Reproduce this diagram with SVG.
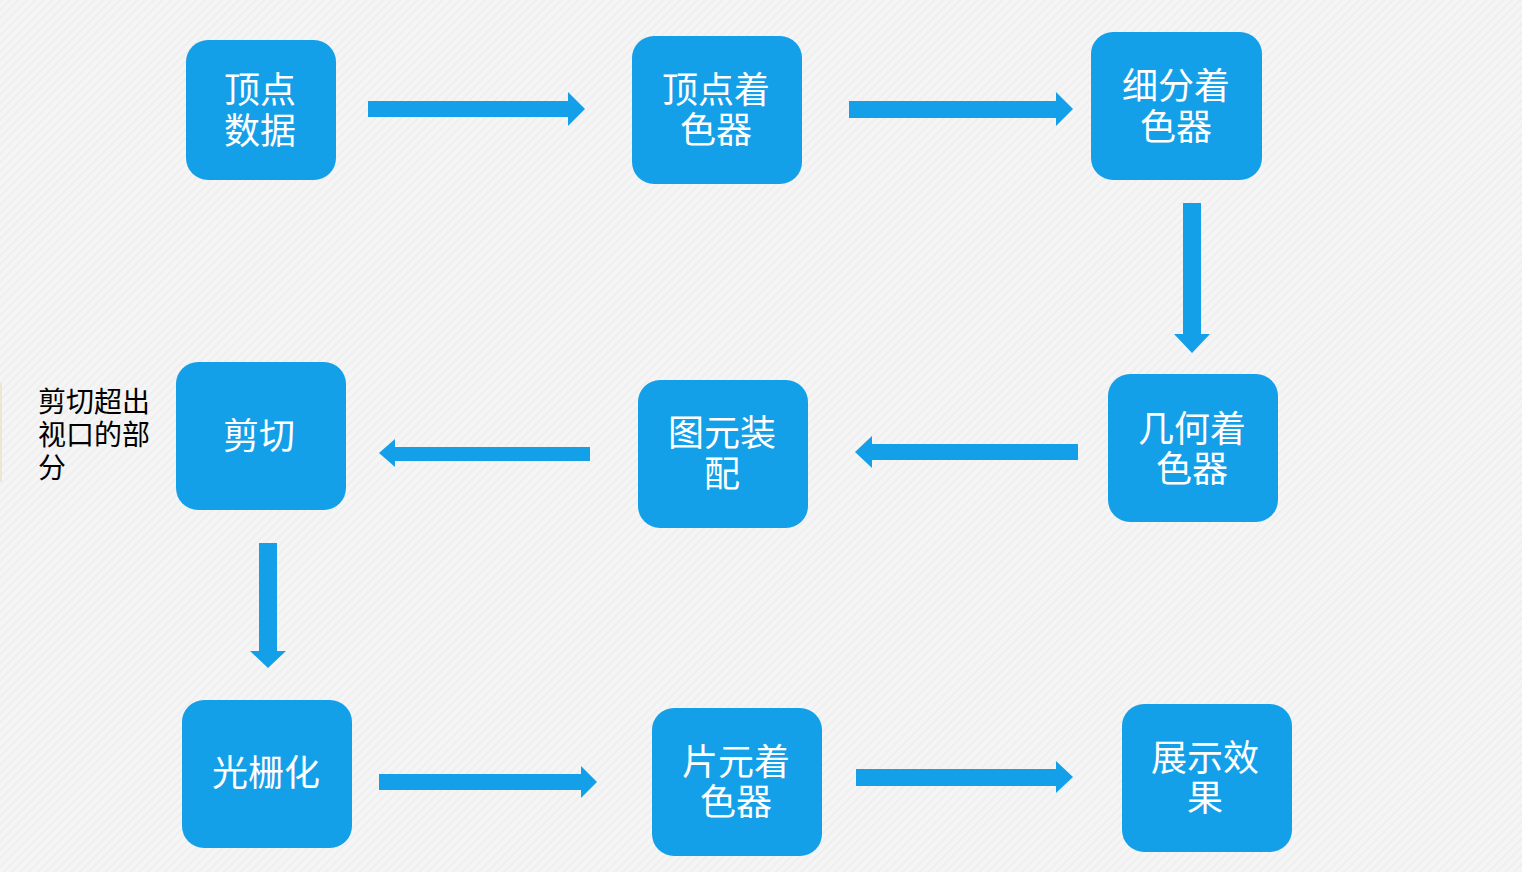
<svg xmlns="http://www.w3.org/2000/svg" width="1522" height="872" viewBox="0 0 1522 872">
<defs>
<style>
.n{fill:#14a0e9}
.t{fill:#ffffff;font-family:"Noto Sans CJK SC","Noto Sans",sans-serif;font-size:36px;text-anchor:middle;dominant-baseline:central}
.a{fill:#14a0e9}
.note{fill:#000000;font-family:"Noto Sans CJK SC","Noto Sans",sans-serif;font-size:28px;dominant-baseline:central}
</style>
<pattern id="bg" width="6" height="6" patternUnits="userSpaceOnUse" patternTransform="rotate(-45)">
<rect width="6" height="6" fill="#f5f5f5"/>
<rect width="6" height="2" fill="#efefef"/>
</pattern>
</defs>
<rect width="1522" height="872" fill="url(#bg)"/>
<rect x="0" y="383" width="2" height="99" fill="#eee6d2"/>
<g id="connectors">
<polygon class="a" points="368,101 568,101 568,92 585,109 568,126 568,117 368,117"/>
<polygon class="a" points="849,101 1056,101 1056,92 1073,109 1056,126 1056,118 849,118"/>
<polygon class="a" points="1183,203 1201,203 1201,334 1210,334 1192,353 1174,334 1183,334"/>
<polygon class="a" points="590,447 395,447 395,439 379,453 395,467 395,461 590,461"/>
<polygon class="a" points="1078,444 872,444 872,436 855,452 872,468 872,460 1078,460"/>
<polygon class="a" points="259,543 277,543 277,651 286,651 268,668 250,651 259,651"/>
<polygon class="a" points="379,774 581,774 581,766 597,782 581,798 581,790 379,790"/>
<polygon class="a" points="856,769 1056,769 1056,761 1073,777 1056,793 1056,786 856,786"/>
</g>
<g id="node1"><rect class="n" x="186" y="40" width="150" height="140" rx="22"/><text class="t" x="260" y="87">顶点<tspan x="260" dy="41">数据</tspan></text></g>
<g id="node2"><rect class="n" x="632" y="36" width="170" height="148" rx="22"/><text class="t" x="716" y="87">顶点着<tspan x="716" dy="40">色器</tspan></text></g>
<g id="node3"><rect class="n" x="1091" y="32" width="171" height="148" rx="22"/><text class="t" x="1176" y="83">细分着<tspan x="1176" dy="41">色器</tspan></text></g>
<g id="node4"><rect class="n" x="1108" y="374" width="170" height="148" rx="22"/><text class="t" x="1192" y="426">几何着<tspan x="1192" dy="40">色器</tspan></text></g>
<g id="node5"><rect class="n" x="638" y="380" width="170" height="148" rx="22"/><text class="t" x="722" y="430">图元装<tspan x="722" dy="41">配</tspan></text></g>
<g id="node6"><rect class="n" x="176" y="362" width="170" height="148" rx="22"/><text class="t" x="259" y="433">剪切</text></g>
<g id="note"><text class="note" x="38" y="400">剪切超出<tspan x="38" dy="33">视口的部</tspan><tspan x="38" dy="33">分</tspan></text></g>
<g id="node7"><rect class="n" x="182" y="700" width="170" height="148" rx="22"/><text class="t" x="266" y="770">光栅化</text></g>
<g id="node8"><rect class="n" x="652" y="708" width="170" height="148" rx="22"/><text class="t" x="736" y="759">片元着<tspan x="736" dy="40">色器</tspan></text></g>
<g id="node9"><rect class="n" x="1122" y="704" width="170" height="148" rx="22"/><text class="t" x="1205" y="755">展示效<tspan x="1205" dy="40">果</tspan></text></g>
</svg>
